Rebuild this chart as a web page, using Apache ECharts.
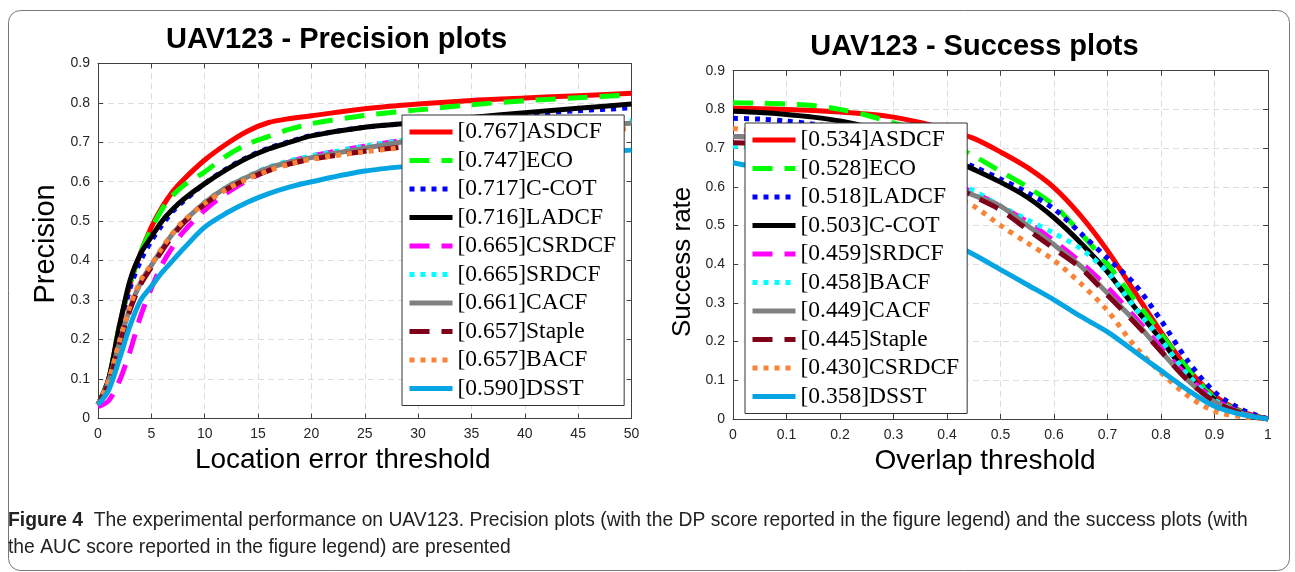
<!DOCTYPE html>
<html><head><meta charset="utf-8">
<script src="https://cdn.jsdelivr.net/npm/echarts@6/dist/echarts.min.js"></script>
<style>html,body{margin:0;padding:0;background:#fff}#c{width:1295px;height:572px}</style>
</head><body><div id="c"></div>
<script>
// ---------- Precision plot data ----------
const precThresholds = [0,1,2,3,4,5,6,7,8,10,12,14,16,18,20,25,30,35,40,45,50];
const precTrackers = ['ASDCF','ECO','C-COT','LADCF','CSRDCF','SRDCF','CACF','Staple','BACF','DSST'];
const precScores = ['0.767','0.747','0.717','0.716','0.665','0.665','0.661','0.657','0.657','0.590'];
const precASDCF  = [0.035,0.10,0.235,0.34,0.42,0.485,0.535,0.575,0.605,0.655,0.695,0.728,0.75,0.76,0.767,0.785,0.797,0.806,0.812,0.818,0.824];
const precECO    = [0.035,0.10,0.235,0.34,0.42,0.48,0.53,0.565,0.59,0.625,0.665,0.695,0.715,0.733,0.747,0.768,0.782,0.795,0.805,0.813,0.82];
const precCCOT   = [0.035,0.095,0.22,0.33,0.40,0.45,0.49,0.525,0.55,0.595,0.632,0.662,0.685,0.702,0.717,0.738,0.75,0.762,0.772,0.78,0.787];
const precLADCF  = [0.035,0.10,0.233,0.35,0.418,0.46,0.50,0.53,0.555,0.595,0.63,0.66,0.683,0.70,0.716,0.738,0.75,0.763,0.775,0.786,0.797];
const precCSRDCF = [0.03,0.045,0.095,0.17,0.26,0.33,0.39,0.435,0.473,0.528,0.57,0.603,0.63,0.65,0.665,0.69,0.71,0.727,0.74,0.75,0.758];
const precSRDCF  = [0.035,0.095,0.19,0.28,0.345,0.388,0.43,0.468,0.498,0.548,0.585,0.613,0.637,0.653,0.665,0.69,0.71,0.725,0.737,0.747,0.754];
const precCACF   = [0.035,0.095,0.19,0.28,0.345,0.388,0.43,0.468,0.498,0.547,0.585,0.612,0.635,0.65,0.661,0.685,0.707,0.722,0.733,0.741,0.748];
const precStaple = [0.035,0.09,0.185,0.275,0.34,0.383,0.425,0.463,0.495,0.543,0.58,0.607,0.628,0.645,0.657,0.677,0.692,0.705,0.716,0.725,0.733];
const precBACF   = [0.035,0.097,0.195,0.285,0.35,0.39,0.432,0.47,0.50,0.545,0.58,0.607,0.628,0.645,0.657,0.676,0.69,0.703,0.715,0.726,0.735];
const precDSST   = [0.035,0.072,0.15,0.235,0.30,0.335,0.37,0.40,0.43,0.485,0.52,0.548,0.57,0.587,0.60,0.627,0.642,0.655,0.665,0.673,0.68];
const precValues = [precASDCF,precECO,precCCOT,precLADCF,precCSRDCF,precSRDCF,precCACF,precStaple,precBACF,precDSST];

// ---------- Success plot data ----------
const succThresholds = [0,0.05,0.1,0.15,0.2,0.25,0.3,0.35,0.4,0.45,0.5,0.55,0.6,0.65,0.7,0.75,0.8,0.85,0.9,0.95,1];
const succTrackers = ['ASDCF','ECO','LADCF','C-COT','SRDCF','BACF','CACF','Staple','CSRDCF','DSST'];
const succScores = ['0.534','0.528','0.518','0.503','0.459','0.458','0.449','0.445','0.430','0.358'];
const succASDCF  = [0.803,0.802,0.80,0.797,0.793,0.788,0.78,0.766,0.748,0.725,0.69,0.65,0.598,0.525,0.435,0.33,0.225,0.13,0.06,0.02,0];
const succECO    = [0.817,0.816,0.814,0.81,0.80,0.785,0.765,0.745,0.715,0.68,0.64,0.60,0.552,0.48,0.40,0.31,0.22,0.13,0.055,0.018,0];
const succLADCF  = [0.777,0.775,0.77,0.762,0.752,0.74,0.725,0.705,0.68,0.652,0.62,0.585,0.543,0.48,0.415,0.35,0.255,0.15,0.07,0.025,0];
const succCCOT   = [0.795,0.792,0.787,0.78,0.77,0.755,0.732,0.706,0.676,0.645,0.612,0.573,0.52,0.455,0.38,0.29,0.205,0.115,0.05,0.015,0];
const succSRDCF  = [0.73,0.728,0.723,0.715,0.705,0.69,0.67,0.645,0.615,0.585,0.55,0.51,0.46,0.405,0.34,0.265,0.185,0.11,0.05,0.016,0];
const succBACF   = [0.705,0.705,0.70,0.695,0.687,0.675,0.66,0.64,0.615,0.59,0.55,0.515,0.48,0.44,0.38,0.29,0.205,0.115,0.05,0.015,0];
const succCACF   = [0.73,0.728,0.722,0.713,0.70,0.685,0.665,0.64,0.61,0.578,0.55,0.50,0.45,0.395,0.325,0.255,0.175,0.10,0.045,0.015,0];
const succStaple = [0.714,0.712,0.707,0.70,0.69,0.677,0.66,0.637,0.61,0.575,0.54,0.49,0.44,0.39,0.32,0.25,0.175,0.10,0.045,0.015,0];
const succCSRDCF = [0.751,0.74,0.725,0.71,0.69,0.665,0.64,0.61,0.58,0.55,0.50,0.455,0.41,0.35,0.28,0.19,0.12,0.06,0.02,0.006,0];
const succDSST   = [0.662,0.648,0.628,0.605,0.58,0.55,0.52,0.49,0.46,0.425,0.386,0.347,0.308,0.265,0.225,0.175,0.125,0.075,0.033,0.012,0];
const succValues = [succASDCF,succECO,succLADCF,succCCOT,succSRDCF,succBACF,succCACF,succStaple,succCSRDCF,succDSST];

// ---------- Text ----------
const precTitle = 'UAV123 - Precision plots';
const succTitle = 'UAV123 - Success plots';
const precXName = 'Location error threshold', precYName = 'Precision';
const succXName = 'Overlap threshold', succYName = 'Success rate';
const captionBold = 'Figure 4';
const captionLine1 = 'The experimental performance on UAV123. Precision plots (with the DP score reported in the figure legend) and the success plots (with';
const captionLine2 = 'the AUC score reported in the figure legend) are presented';

// ---------- Styles by rank ----------
const DASH = [20, 12], DOT = [5, 6];
const rankStyles = [
  {color:'#ff0000', type:'solid'},
  {color:'#00ff00', type:DASH},
  {color:'#0000ff', type:DOT},
  {color:'#000000', type:'solid'},
  {color:'#ff00ff', type:DASH},
  {color:'#00ffff', type:DOT},
  {color:'#808080', type:'solid'},
  {color:'#7f0019', type:DASH},
  {color:'#f98336', type:DOT},
  {color:'#05a5e3', type:'solid'}
];

const chart = echarts.init(document.getElementById('c'), null, {renderer:'canvas'});
const AX = '#404040', LBL = '#262626', GRID = '#dcdcdc';
const sans = 'Liberation Sans, Arial, sans-serif';

function mainX(grid, min, max, interval, name, namePad) {
  return {gridIndex:grid, type:'value', min, max, interval, position:'bottom',
    axisLine:{show:true, onZero:false, lineStyle:{color:AX, width:1}},
    axisTick:{show:true, inside:true, length:5, lineStyle:{color:AX}},
    axisLabel:{fontSize:14, color:LBL, margin:9, fontFamily:sans},
    splitLine:{show:true, lineStyle:{color:GRID, type:[6,4], width:1}},
    name, nameLocation:'middle', nameGap:27,
    nameTextStyle:{fontSize:28, color:'#000', fontFamily:sans, padding:namePad}};
}
function topX(grid, min, max, interval) {
  return {gridIndex:grid, type:'value', min, max, interval, position:'top',
    axisLine:{show:true, onZero:false, lineStyle:{color:AX, width:1}},
    axisTick:{show:true, inside:true, length:5, lineStyle:{color:AX}},
    axisLabel:{show:false}, splitLine:{show:false}};
}
function mainY(grid, name, gap, namePad, fs) {
  return {gridIndex:grid, type:'value', min:0, max:0.9, interval:0.1, position:'left',
    axisLine:{show:true, onZero:false, lineStyle:{color:AX, width:1}},
    axisTick:{show:true, inside:true, length:5, lineStyle:{color:AX}},
    axisLabel:{fontSize:14, color:LBL, margin:8, fontFamily:sans},
    splitLine:{show:true, lineStyle:{color:GRID, type:[6,4], width:1}},
    name, nameLocation:'middle', nameGap:gap, nameRotate:90,
    nameTextStyle:{fontSize:fs, color:'#000', fontFamily:sans, padding:namePad}};
}
function rightY(grid) {
  return {gridIndex:grid, type:'value', min:0, max:0.9, interval:0.1, position:'right',
    axisLine:{show:true, onZero:false, lineStyle:{color:AX, width:1}},
    axisTick:{show:true, inside:true, length:5, lineStyle:{color:AX}},
    axisLabel:{show:false}, splitLine:{show:false}};
}

const series = [];
const precLegend = [], succLegend = [];
precTrackers.forEach((t, i) => {
  const name = '[' + precScores[i] + ']' + t;
  precLegend.push(name);
  series.push({type:'line', name, xAxisIndex:0, yAxisIndex:0,
    data: precThresholds.map((x, k) => [x, precValues[i][k]]),
    symbol:'none', showSymbol:false, smooth:0.3,
    lineStyle:{color:rankStyles[i].color, type:rankStyles[i].type, width:5, cap:'butt', join:'round'},
    itemStyle:{color:rankStyles[i].color}, z:2+i*0.01, silent:true});
});
succTrackers.forEach((t, i) => {
  const name = '[' + succScores[i] + ']' + t;
  succLegend.push(name);
  series.push({type:'line', name, xAxisIndex:2, yAxisIndex:2,
    data: succThresholds.map((x, k) => [x, succValues[i][k]]),
    symbol:'none', showSymbol:false, smooth:0.3,
    lineStyle:{color:rankStyles[i].color, type:rankStyles[i].type, width:5, cap:'butt', join:'round'},
    itemStyle:{color:rankStyles[i].color}, z:2+i*0.01, silent:true});
});

const legendCommon = {orient:'vertical', backgroundColor:'#fff', borderColor:'#333', borderWidth:1,
  padding:[5,8,5,5], itemWidth:43, itemHeight:14, itemGap:4.5, selectedMode:false,
  textStyle:{fontFamily:'Liberation Serif, DejaVu Serif, serif', fontSize:23.5, color:'#000', lineHeight:24},
  itemStyle:{opacity:0, borderWidth:0}, lineStyle:{width:5}, z:10};

const option = {
  animation:false,
  backgroundColor:'#fff',
  grid:[
    {left:98, top:63.3, width:533.5, height:355.2, containLabel:false},
    {left:733, top:70.7, width:535, height:348.3, containLabel:false}
  ],
  xAxis:[
    mainX(0, 0, 50, 5, precXName, [0,44,0,0]),
    topX(0, 0, 50, 5),
    mainX(1, 0, 1, 0.1, succXName, [0,31,0,0]),
    topX(1, 0, 1, 0.1)
  ],
  yAxis:[
    mainY(0, precYName, 38, [0,6,0,0], 29),
    rightY(0),
    mainY(1, succYName, 37, [0,34,0,0], 26),
    rightY(1)
  ],
  legend:[
    Object.assign({}, legendCommon, {left:402, top:115, data:precLegend}),
    Object.assign({}, legendCommon, {left:745, top:123, data:succLegend})
  ],
  series,
  graphic:[
    {type:'rect', shape:{x:8.5, y:10.5, width:1281, height:560, r:12}, style:{fill:'none', stroke:'#777', lineWidth:1}, z:0, silent:true},
    {type:'text', x:336.5, y:40, style:{text:precTitle, font:'bold 29px Liberation Sans, Arial, sans-serif', fill:'#000', textAlign:'center', textVerticalAlign:'middle'}},
    {type:'text', x:974.5, y:47, style:{text:succTitle, font:'bold 29px Liberation Sans, Arial, sans-serif', fill:'#000', textAlign:'center', textVerticalAlign:'middle'}},
    {type:'text', x:8, y:521, style:{text:'{b|' + captionBold + '}  ' + captionLine1,
      rich:{b:{fontWeight:'bold', fontSize:19.3, fontFamily:sans, fill:'#222'}},
      font:'19.3px Liberation Sans, Arial, sans-serif', fill:'#222', textVerticalAlign:'middle'}},
    {type:'text', x:8, y:548, style:{text:captionLine2, font:'19.3px Liberation Sans, Arial, sans-serif', fill:'#222', textVerticalAlign:'middle'}}
  ]
};
chart.setOption(option);
</script>
</body></html>
